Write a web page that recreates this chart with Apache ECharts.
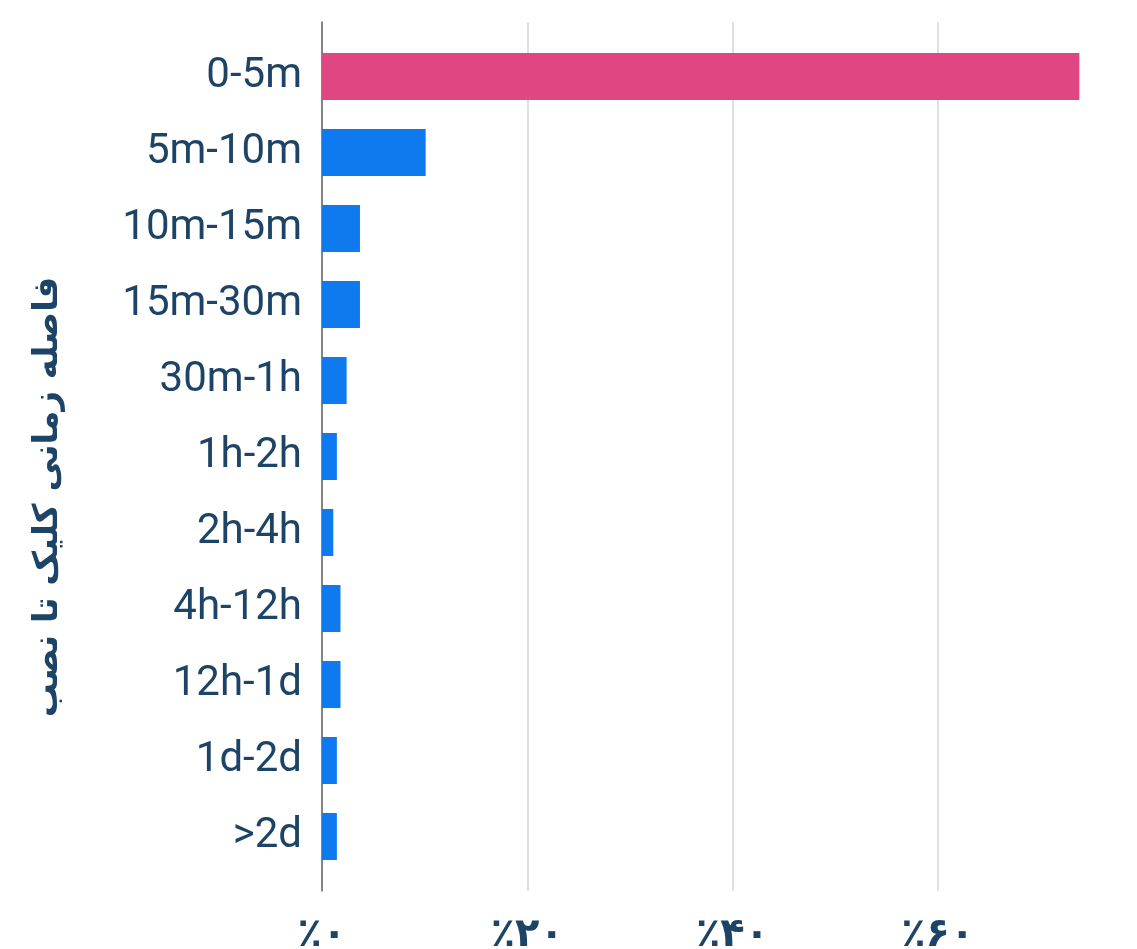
<!DOCTYPE html>
<html>
<head>
<meta charset="utf-8">
<script src="https://cdn.jsdelivr.net/npm/echarts@6/dist/echarts.min.js"></script>
<style>
    html, body { margin: 0; padding: 0; background: #fff; }
    #chart-container { width: 1137px; height: 949px; }
</style>
</head>
<body>
<div id="chart-container"></div>
<script>
const categories = ['0-5m', '5m-10m', '10m-15m', '15m-30m', '30m-1h', '1h-2h', '2h-4h', '4h-12h', '12h-1d', '1d-2d', '>2d'];
const shares = [73.8, 10.1, 3.7, 3.7, 2.4, 1.45, 1.1, 1.8, 1.8, 1.45, 1.45];
const tickValues = [0, 20, 40, 60];
const axisName = 'فاصله زمانی کلیک تا نصب';

const textColor = '#1d4466';
const faDigits = '۰۱۲۳۴۵۶۷۸۹';

// 20 -> ٪۲۰
function toPersianPercent(v) {
    return '٪' + String(v).replace(/\d/g, d => faDigits[d]);
}

const chart = echarts.init(document.querySelector('#chart-container'), null, { renderer: 'canvas' });

chart.setOption({
    animation: false,
    grid: [
        // background grid: split lines, axis line, bottom labels
        { left: 322, width: 821, top: 22, bottom: 58, outerBoundsMode: 'none', containLabel: false },
        // bar grid
        { left: 322, width: 821, top: 38.5, bottom: 74.5, outerBoundsMode: 'none', containLabel: false }
    ],
    xAxis: [{
        type: 'value',
        gridIndex: 0,
        min: 0,
        max: 80,
        interval: 20,
        axisLine: { show: false },
        axisTick: { show: false },
        splitLine: { lineStyle: { color: '#d6d6d6', width: 1.5 } },
        axisLabel: {
            margin: 25,
            showMaxLabel: false,
            color: textColor,
            fontFamily: 'DejaVu Sans',
            fontWeight: 'bold',
            fontSize: 40,
            formatter: function (v) {
                return tickValues.indexOf(v) >= 0 ? toPersianPercent(v) : '';
            }
        }
    }, {
        type: 'value',
        gridIndex: 1,
        min: 0,
        max: 80,
        show: false
    }],
    yAxis: [{
        type: 'value',
        gridIndex: 0,
        axisLine: { show: true, lineStyle: { color: '#666', width: 1.5 } },
        axisTick: { show: false },
        axisLabel: { show: false },
        splitLine: { show: false }
    }, {
        type: 'category',
        gridIndex: 1,
        inverse: true,
        data: categories,
        axisLine: { show: false },
        axisTick: { show: false },
        axisLabel: {
            margin: 20,
            color: textColor,
            fontFamily: 'Roboto',
            fontSize: 42
        }
    }],
    graphic: [{
        type: 'text',
        x: 48,
        y: 497,
        rotation: Math.PI / 2,
        style: {
            text: axisName,
            fill: textColor,
            fontFamily: 'DejaVu Sans',
            fontWeight: 'bold',
            fontSize: 34,
            align: 'center',
            verticalAlign: 'middle'
        }
    }],
    series: [{
        type: 'bar',
        xAxisIndex: 1,
        yAxisIndex: 1,
        data: shares,
        barWidth: 47,
        itemStyle: {
            color: function (p) {
                return p.dataIndex === 0 ? '#df4783' : '#0e7aed';
            }
        }
    }]
});
</script>
</body>
</html>
